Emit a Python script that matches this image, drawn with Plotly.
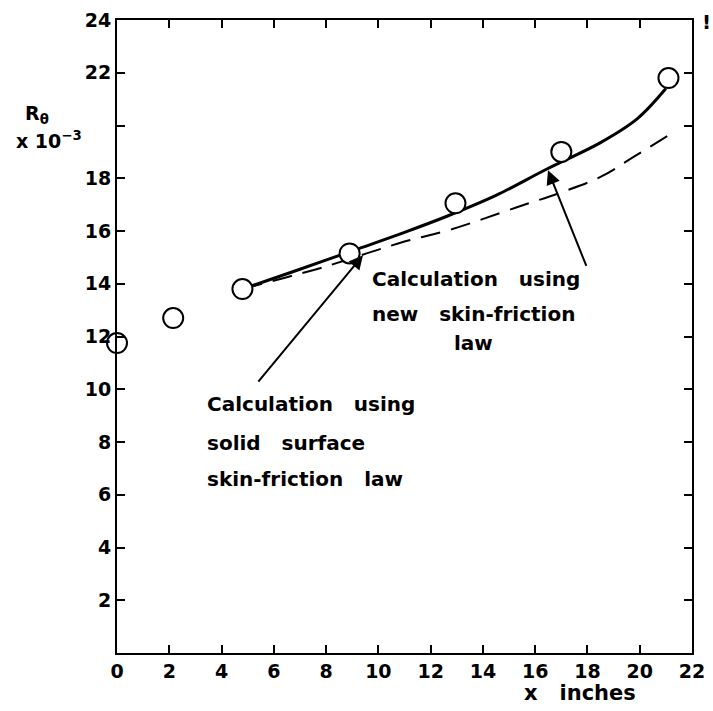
import plotly.graph_objects as go

# Measured points (x inches, R_theta x 10^-3)
meas_x = [0.0, 2.15, 4.8, 8.9, 12.95, 17.0, 21.1]
meas_y = [11.75, 12.7, 13.8, 15.15, 17.05, 19.0, 21.8]

# Calculation using new skin-friction law (solid)
new_x = [4.8, 7.0, 9.3, 11.0, 12.6, 14.5, 16.45, 18.5, 19.9, 21.0]
new_y = [13.8, 14.55, 15.35, 15.95, 16.55, 17.35, 18.35, 19.35, 20.25, 21.4]

# Calculation using solid surface skin-friction law (dashed)
old_x = [4.8, 6.5, 7.8, 9.55, 11.0, 12.75, 15.3, 16.95, 18.5, 19.75, 21.05]
old_y = [13.8, 14.25, 14.6, 15.15, 15.6, 16.05, 16.9, 17.45, 18.05, 18.8, 19.6]

x_ticks = list(range(0, 23, 2))
y_ticks = list(range(2, 25, 2))
y_ticktext = ["" if v == 20 else str(v) for v in y_ticks]

FONT = "DejaVu Sans"
W, H = 713, 711
# plot box in window pixels: left 117, right 692, top 20, bottom 653
PL, PR, PT, PB = 117, 692, 20, 653
ML, MR, MT, MB = PL, W - PR, PT, H - PB


def px2paper(px, py):
    return (px - PL) / (PR - PL), (PB - py) / (PB - PT)


fig = go.Figure()
fig.add_trace(go.Scatter(x=new_x, y=new_y, mode="lines", line=dict(color="black", width=3, shape="spline"),
                         showlegend=False, hoverinfo="skip"))
fig.add_trace(go.Scatter(x=old_x, y=old_y, mode="lines",
                         line=dict(color="black", width=2, dash="20px,11px", shape="spline"),
                         showlegend=False, hoverinfo="skip"))
fig.add_trace(go.Scatter(x=meas_x, y=meas_y, mode="markers", cliponaxis=False,
                         marker=dict(symbol="circle", size=20, color="white", line=dict(color="black", width=2)),
                         showlegend=False))

axis_common = dict(showline=True, linecolor="black", linewidth=2, mirror="ticks", ticks="inside",
                   ticklen=8, tickwidth=2, tickcolor="black", showgrid=False, zeroline=False,
                   automargin=False, ticklabeloverflow="allow",
                   tickfont=dict(family=FONT, size=19, color="black", weight="bold"))
fig.update_xaxes(range=[0, 22], tickvals=x_ticks, **axis_common)
fig.update_yaxes(range=[0, 24], tickvals=y_ticks, ticktext=y_ticktext, **axis_common)

tf = dict(family=FONT, size=20, color="black", weight="bold")
nb = "\u00a0"
texts = [
    ("Calculation" + nb * 3 + "using", 370, 279),
    ("new" + nb * 3 + "skin-friction", 370, 314),
    ("law", 452, 343),
    ("Calculation" + nb * 3 + "using", 205, 404),
    ("solid" + nb * 3 + "surface", 205, 443),
    ("skin-friction" + nb * 3 + "law", 205, 479),
]
for t, px, py in texts:
    xp, yp = px2paper(px, py)
    fig.add_annotation(x=xp, y=yp, xref="paper", yref="paper", text=t, showarrow=False,
                       xanchor="left", yanchor="middle", font=tf)

# arrows (head -> tail, data coords)
fig.add_annotation(x=9.41, y=15.08, ax=5.36, ay=10.23, xref="x", yref="y", axref="x", ayref="y",
                   text="", showarrow=True, arrowhead=2, arrowsize=1.4, arrowwidth=2, arrowcolor="black")
fig.add_annotation(x=16.49, y=18.3, ax=17.98, ay=14.62, xref="x", yref="y", axref="x", ayref="y",
                   text="", showarrow=True, arrowhead=2, arrowsize=1.4, arrowwidth=2, arrowcolor="black")

# axis titles and stray mark
titles = [
    ("x" + nb * 3 + "inches", 580, 693, 21),
    ("R<sub>θ</sub>", 37, 114, 19),
    ("x" + nb + "10<sup>−3</sup>", 49, 140, 19),
    ("!", 706, 22, 20),
]
for t, px, py, fs in titles:
    xp, yp = px2paper(px, py)
    fig.add_annotation(x=xp, y=yp, xref="paper", yref="paper", text=t, showarrow=False,
                       xanchor="center", yanchor="middle",
                       font=dict(family=FONT, size=fs, color="black", weight="bold"))

fig.update_layout(width=W, height=H, margin=dict(l=ML, r=MR, t=MT, b=MB, autoexpand=False),
                  plot_bgcolor="white", paper_bgcolor="white", hovermode=False)
fig.write_html("out.html", config={"displayModeBar": False, "staticPlot": True},
               post_script="document.body.style.margin='0';document.body.style.overflow='hidden';")
